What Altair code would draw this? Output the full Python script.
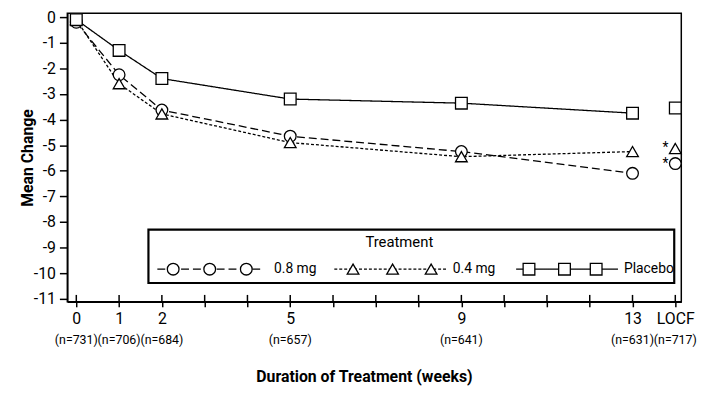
import altair as alt
import pandas as pd

# ---------------- data ----------------
groups = ["0.8 mg", "0.4 mg", "Placebo"]
weeks = [0, 1, 2, 5, 9, 13]
mg08 = [-0.2, -2.25, -3.63, -4.65, -5.25, -6.1]
mg04 = [-0.1, -2.6, -3.78, -4.9, -5.45, -5.25]
placebo = [-0.1, -1.3, -2.4, -3.2, -3.36, -3.75]
locf_week = 14
locf_values = [-5.72, -5.13, -3.55]
starred = ["0.8 mg", "0.4 mg"]

tick_weeks = [0, 1, 2, 5, 9, 13, 14]
tick_names = ["0", "1", "2", "5", "9", "13", "LOCF"]
n_counts = [731, 706, 684, 657, 641, 631, 717]

# ---------------- tables ----------------
series = {"0.8 mg": mg08, "0.4 mg": mg04, "Placebo": placebo}
rows = []
for g in groups:
    for w, v in zip(weeks, series[g]):
        rows.append({"week": w, "value": v, "group": g, "kind": "main"})
for g, v in zip(groups, locf_values):
    rows.append({"week": locf_week, "value": v, "group": g, "kind": "locf"})
df = pd.DataFrame(rows)
df_main = df[df.kind == "main"]
df_star = df[(df.kind == "locf") & (df.group.isin(starred))]
df_ticks = pd.DataFrame({"week": list(range(0, 15))})
df_n = pd.DataFrame({"week": tick_weeks, "n": [f"(n={n})" for n in n_counts]})

FONT = "Roboto, 'Liberation Sans', sans-serif"
W, H = 621, 292
xscale = alt.Scale(domain=[-0.21, 14.14], nice=False, zero=False)
yscale = alt.Scale(domain=[-11.116, 0.154], nice=False, zero=False)

# label expression for the x axis
expr = "''"
for w, name in reversed(list(zip(tick_weeks, tick_names))):
    expr = f"datum.value == {w} ? '{name}' : ({expr})"

xaxis = alt.Axis(values=list(range(0, 15)), labelExpr=expr, tickSize=5, tickColor="black",
                 tickWidth=1.5, domainColor="black", domainWidth=1.5, labelFont=FONT,
                 labelFontSize=16, labelPadding=4, labelColor="black",
                 title="Duration of Treatment (weeks)", titleFont=FONT, titleFontSize=16,
                 titleFontWeight="bold", titleColor="black", titleX=300, titleY=76,
                 titleBaseline="middle", labelOverlap=False, labelFlush=False, grid=False)
yaxis = alt.Axis(values=list(range(-11, 1)), labelExpr="'' + datum.value", tickSize=8,
                 tickColor="black", tickWidth=1.5, domainColor="black", domainWidth=1.5,
                 labelFont=FONT, labelFontSize=16, labelPadding=4, labelColor="black",
                 title="Mean Change", titleFont=FONT, titleFontSize=16, titleFontWeight="bold",
                 titleColor="black", titleX=-40, titleY=H / 2, titleAlign="center",
                 titleBaseline="middle", grid=False, labelOverlap=False)

X = alt.X("week:Q", scale=xscale, axis=xaxis)
Y = alt.Y("value:Q", scale=yscale, axis=yaxis)

dash_scale = alt.Scale(domain=groups, range=[[8, 4], [3, 2], [1, 0]])
shape_scale = alt.Scale(domain=groups, range=["circle", "triangle-up", "square"])

lines = alt.Chart(df_main).mark_line(color="black", strokeWidth=1.3).encode(
    x=X, y=Y,
    strokeDash=alt.StrokeDash("group:N", scale=dash_scale, legend=None),
    detail="group:N",
)
points = alt.Chart(df).mark_point(filled=True, fill="white", stroke="black", strokeWidth=1.3,
                                  size=140, opacity=1).encode(
    x=X, y=Y, shape=alt.Shape("group:N", scale=shape_scale, legend=None)
)
stars = alt.Chart(df_star).mark_text(text="*", font=FONT, fontSize=14, align="right",
                                     baseline="middle", dx=-7, dy=0, color="black").encode(
    x=X, y=Y
)
inner_ticks = alt.Chart(df_ticks).mark_rule(color="black", strokeWidth=1.5).encode(
    x=X, y=alt.value(H), y2=alt.value(H - 7)
)
n_labels = alt.Chart(df_n).mark_text(font=FONT, fontSize=12.5, align="center",
                                     baseline="middle", color="black").encode(
    x=X, y=alt.value(H + 39), text="n:N"
)

# ---------------- legend (drawn in data coordinates) ----------------
leg_box = pd.DataFrame([{"week": 1.686, "week2": 13.975, "value": -8.30, "value2": -10.38}])
leg_title = pd.DataFrame([{"week": 7.55, "value": -8.80, "t": "Treatment"}])
leg_y = -9.84
leg_lines = pd.DataFrame([
    {"group": "0.8 mg", "week": 1.894, "week2": 4.343},
    {"group": "0.4 mg", "week": 6.03, "week2": 8.686},
    {"group": "Placebo", "week": 10.28, "week2": 12.66},
])
leg_marks = pd.DataFrame(
    [{"group": "0.8 mg", "week": x} for x in (2.264, 3.118, 3.973)]
    + [{"group": "0.4 mg", "week": x} for x in (6.468, 7.392, 8.293)]
    + [{"group": "Placebo", "week": x} for x in (10.58, 11.41, 12.15)]
)
leg_labels = pd.DataFrame([
    {"group": "0.8 mg", "week": 4.62},
    {"group": "0.4 mg", "week": 8.80},
    {"group": "Placebo", "week": 12.80},
])
for d in (leg_lines, leg_marks, leg_labels):
    d["value"] = leg_y

box = alt.Chart(leg_box).mark_rect(fill="white", stroke="black", strokeWidth=2.2).encode(
    x=X, x2="week2:Q", y=Y, y2="value2:Q"
)
ltitle = alt.Chart(leg_title).mark_text(font=FONT, fontSize=15, align="center",
                                        baseline="middle", color="black").encode(
    x=X, y=Y, text="t:N"
)
llines = alt.Chart(leg_lines).mark_rule(color="black", strokeWidth=1.3).encode(
    x=X, x2="week2:Q", y=Y,
    strokeDash=alt.StrokeDash("group:N", scale=dash_scale, legend=None),
)
lmarks = alt.Chart(leg_marks).mark_point(filled=True, fill="white", stroke="black",
                                         strokeWidth=1.3, size=140, opacity=1).encode(
    x=X, y=Y, shape=alt.Shape("group:N", scale=shape_scale, legend=None)
)
llabels = alt.Chart(leg_labels).mark_text(font=FONT, fontSize=14, align="left",
                                          baseline="middle", color="black").encode(
    x=X, y=Y, text="group:N"
)

chart = alt.layer(lines, points, stars, inner_ticks, n_labels, box, ltitle, llines, lmarks,
                  llabels).properties(
    width=W, height=H,
    autosize=alt.AutoSizeParams(type="none"),
    padding={"left": 60, "top": 3, "right": 26, "bottom": 90},
).configure(background="white").configure_view(stroke="black", strokeWidth=1.5)

chart.save("out.html", embed_options={"renderer": "svg", "actions": False})
